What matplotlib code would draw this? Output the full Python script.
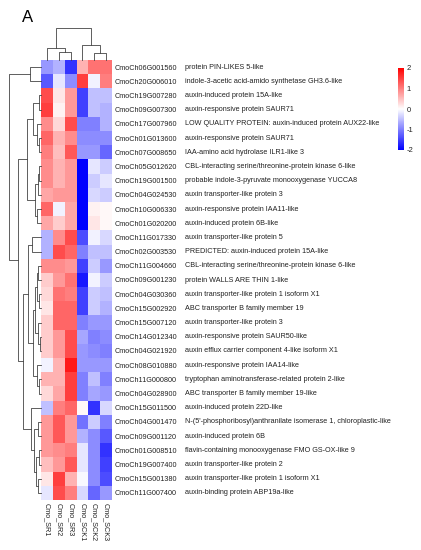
import numpy as np
import matplotlib
matplotlib.use("Agg")
import matplotlib.pyplot as plt
from matplotlib.colors import LinearSegmentedColormap
from matplotlib import transforms

plt.rcParams["font.family"] = ["Liberation Sans", "DejaVu Sans"]

# --- Data ---
samples = ["Cmo_SR1", "Cmo_SR2", "Cmo_SR3", "Cmo_SCK1", "Cmo_SCK2", "Cmo_SCK3"]

genes = [
    "CmoCh06G001560", "CmoCh20G006010", "CmoCh19G007280", "CmoCh09G007300",
    "CmoCh17G007960", "CmoCh01G013600", "CmoCh07G008650", "CmoCh05G012620",
    "CmoCh19G001500", "CmoCh04G024530", "CmoCh10G006330", "CmoCh01G020200",
    "CmoCh11G017330", "CmoCh02G003530", "CmoCh11G004660", "CmoCh09G001230",
    "CmoCh04G030360", "CmoCh15G002920", "CmoCh15G007120", "CmoCh14G012340",
    "CmoCh04G021920", "CmoCh08G010880", "CmoCh11G000800", "CmoCh04G028900",
    "CmoCh15G011500", "CmoCh04G001470", "CmoCh09G001120", "CmoCh01G008510",
    "CmoCh19G007400", "CmoCh15G001380", "CmoCh11G007400",
]

descriptions = [
    "protein PIN-LIKES 5-like",
    "indole-3-acetic acid-amido synthetase GH3.6-like",
    "auxin-induced protein 15A-like",
    "auxin-responsive protein SAUR71",
    "LOW QUALITY PROTEIN: auxin-induced protein AUX22-like",
    "auxin-responsive protein SAUR71",
    "IAA-amino acid hydrolase ILR1-like 3",
    "CBL-interacting serine/threonine-protein kinase 6-like",
    "probable indole-3-pyruvate monooxygenase YUCCA8",
    "auxin transporter-like protein 3",
    "auxin-responsive protein IAA11-like",
    "auxin-induced protein 6B-like",
    "auxin transporter-like protein 5",
    "PREDICTED: auxin-induced protein 15A-like",
    "CBL-interacting serine/threonine-protein kinase 6-like",
    "protein WALLS ARE THIN 1-like",
    "auxin transporter-like protein 1 isoform X1",
    "ABC transporter B family member 19",
    "auxin transporter-like protein 3",
    "auxin-responsive protein SAUR50-like",
    "auxin efflux carrier component 4-like isoform X1",
    "auxin-responsive protein IAA14-like",
    "tryptophan aminotransferase-related protein 2-like",
    "ABC transporter B family member 19-like",
    "auxin-induced protein 22D-like",
    "N-(5'-phosphoribosyl)anthranilate isomerase 1, chloroplastic-like",
    "auxin-induced protein 6B",
    "flavin-containing monooxygenase FMO GS-OX-like 9",
    "auxin transporter-like protein 2",
    "auxin transporter-like protein 1 isoform X1",
    "auxin-binding protein ABP19a-like",
]

# row z-scores, columns in the order of `samples`
zscores = [
    [-0.8, -0.6, -1.6, 0.6, 1.1, 1.1],
    [-1.3, -0.2, -0.9, 1.5, -0.1, 1.0],
    [1.4, 0.2, 0.8, -1.5, -0.5, -0.5],
    [1.5, 0.1, 0.8, -1.5, -0.5, -0.6],
    [0.9, 0.3, 1.4, -1.0, -1.0, -0.6],
    [1.2, 0.6, 0.9, -0.9, -0.9, -0.9],
    [1.0, 0.5, 1.3, -0.8, -0.8, -1.2],
    [0.9, 0.6, 0.8, -2.0, -0.2, -0.4],
    [0.9, 0.6, 0.8, -2.0, -0.4, -0.2],
    [0.7, 0.8, 0.8, -2.0, -0.3, -0.4],
    [1.2, -0.1, 0.7, -2.0, 0.1, 0.05],
    [0.7, 0.4, 0.7, -2.1, 0.2, 0.05],
    [-0.6, 0.9, 1.4, -1.4, -0.1, -0.3],
    [-0.6, 1.4, 1.2, -1.0, -0.5, -0.5],
    [0.9, 0.9, 0.8, -1.5, -0.4, -0.8],
    [0.4, 0.8, 1.1, -1.8, -0.1, -0.4],
    [0.3, 1.1, 1.0, -1.5, -0.4, -0.5],
    [0.2, 1.2, 1.2, -1.5, -0.4, -0.6],
    [0.4, 1.2, 1.2, -1.0, -0.8, -0.8],
    [0.4, 0.8, 1.4, -0.7, -1.0, -0.9],
    [0.4, 0.8, 1.4, -0.8, -0.9, -1.0],
    [-0.1, 0.6, 1.8, -0.8, -0.8, -0.8],
    [0.6, 0.6, 1.5, -1.0, -0.5, -1.0],
    [0.3, 0.7, 1.5, -1.0, -0.7, -0.8],
    [-0.5, 1.0, 1.2, 0.05, -1.6, -0.3],
    [0.8, 1.3, 0.8, -1.1, -0.4, -1.0],
    [0.8, 1.3, 0.8, -0.6, -0.9, -1.3],
    [0.8, 0.9, 1.0, -0.2, -0.9, -1.6],
    [0.5, 0.8, 1.3, -0.2, -0.9, -1.5],
    [0.2, 1.5, 0.6, -0.05, -0.9, -1.4],
    [-0.2, 1.4, 1.0, -0.3, -1.2, -0.8],
]

# linkage-like merges: (child_a, child_b, height); new nodes numbered after leaves
row_links = [
    (2, 3, 0.06), (5, 6, 0.07), (4, 32, 0.14), (31, 33, 0.24),
    (7, 8, 0.05), (35, 9, 0.10), (10, 11, 0.12), (36, 37, 0.20),
    (34, 38, 0.44),
    (12, 13, 0.28), (14, 15, 0.08), (16, 17, 0.06), (41, 42, 0.14),
    (19, 20, 0.04), (18, 44, 0.10), (43, 45, 0.18), (22, 23, 0.07),
    (21, 47, 0.12), (46, 48, 0.24), (40, 49, 0.40),
    (25, 26, 0.08), (27, 28, 0.07), (29, 30, 0.10), (52, 53, 0.16),
    (51, 54, 0.22), (24, 55, 0.32),
    (50, 56, 0.56), (39, 57, 0.72), (0, 1, 0.34), (59, 58, 1.0),
]

col_links = [(1, 2, 0.25), (0, 6, 0.375), (4, 5, 0.22), (3, 8, 0.47), (7, 9, 1.0)]


def dendro_segments(links, n_leaves):
    pos = {i: i + 0.5 for i in range(n_leaves)}
    hgt = {i: 0.0 for i in range(n_leaves)}
    segs = []
    for k, (a, b, h) in enumerate(links):
        node = n_leaves + k
        segs.append(([pos[a], pos[a], pos[b], pos[b]], [hgt[a], h, h, hgt[b]]))
        pos[node] = (pos[a] + pos[b]) / 2
        hgt[node] = h
    return segs


W, H = 421, 550
fig = plt.figure(figsize=(W / 100, H / 100), dpi=100)

cmap = LinearSegmentedColormap.from_list("bwr2", ["#0000ff", "#ffffff", "#ff0000"])

n_rows = len(genes)
n_cols = len(samples)

# --- Heatmap ---
ax = fig.add_axes([41 / W, 1 - 500 / H, 71 / W, 440 / H])
mesh = ax.pcolormesh(np.array(zscores), cmap=cmap, vmin=-2, vmax=2)
ax.set_xlim(0, n_cols)
ax.set_ylim(n_rows, 0)
for s in ax.spines.values():
    s.set_visible(False)

ax.yaxis.tick_right()
ax.set_yticks(np.arange(n_rows) + 0.5)
ax.set_yticklabels(genes, fontsize=5.2, color="#222222")
ax.set_xticks(np.arange(n_cols) + 0.5)
ax.set_xticklabels(samples, fontsize=5.2, rotation=270, va="top", ha="center",
                   color="#222222")
ax.tick_params(length=0, pad=2.2)

desc_tr = transforms.blended_transform_factory(fig.transFigure, ax.transData)
for i, d in enumerate(descriptions):
    ax.text(185 / W, i + 0.5, d, transform=desc_tr, fontsize=5.2, va="center",
            ha="left", color="#222222", clip_on=False)

# --- Row dendrogram ---
axr = fig.add_axes([9 / W, 1 - 500 / H, 32 / W, 440 / H])
for ys, xs in dendro_segments(row_links, n_rows):
    axr.plot(xs, ys, color="#444444", lw=0.6, clip_on=False)
axr.set_xlim(1.0, 0)
axr.set_ylim(n_rows, 0)
axr.axis("off")

# --- Column dendrogram ---
axc = fig.add_axes([41 / W, 1 - 60 / H, 71 / W, 32 / H])
for xs, ys in dendro_segments(col_links, n_cols):
    axc.plot(xs, ys, color="#444444", lw=0.6, clip_on=False)
axc.set_xlim(0, n_cols)
axc.set_ylim(0, 1.0)
axc.axis("off")

# --- Colorbar ---
cax = fig.add_axes([398 / W, 1 - 150 / H, 6 / W, 82 / H])
cb = fig.colorbar(mesh, cax=cax, ticks=[-2, -1, 0, 1, 2])
cb.outline.set_visible(False)
cb.ax.set_yticklabels(["-2", "-1", "0", "1", "2"])
cb.ax.tick_params(length=0, pad=2, labelsize=5.5, labelcolor="#222222")

fig.text(22 / W, 1 - 22 / H, "A", fontsize=12, ha="left", va="baseline")

fig.savefig("out.png", dpi=100)
